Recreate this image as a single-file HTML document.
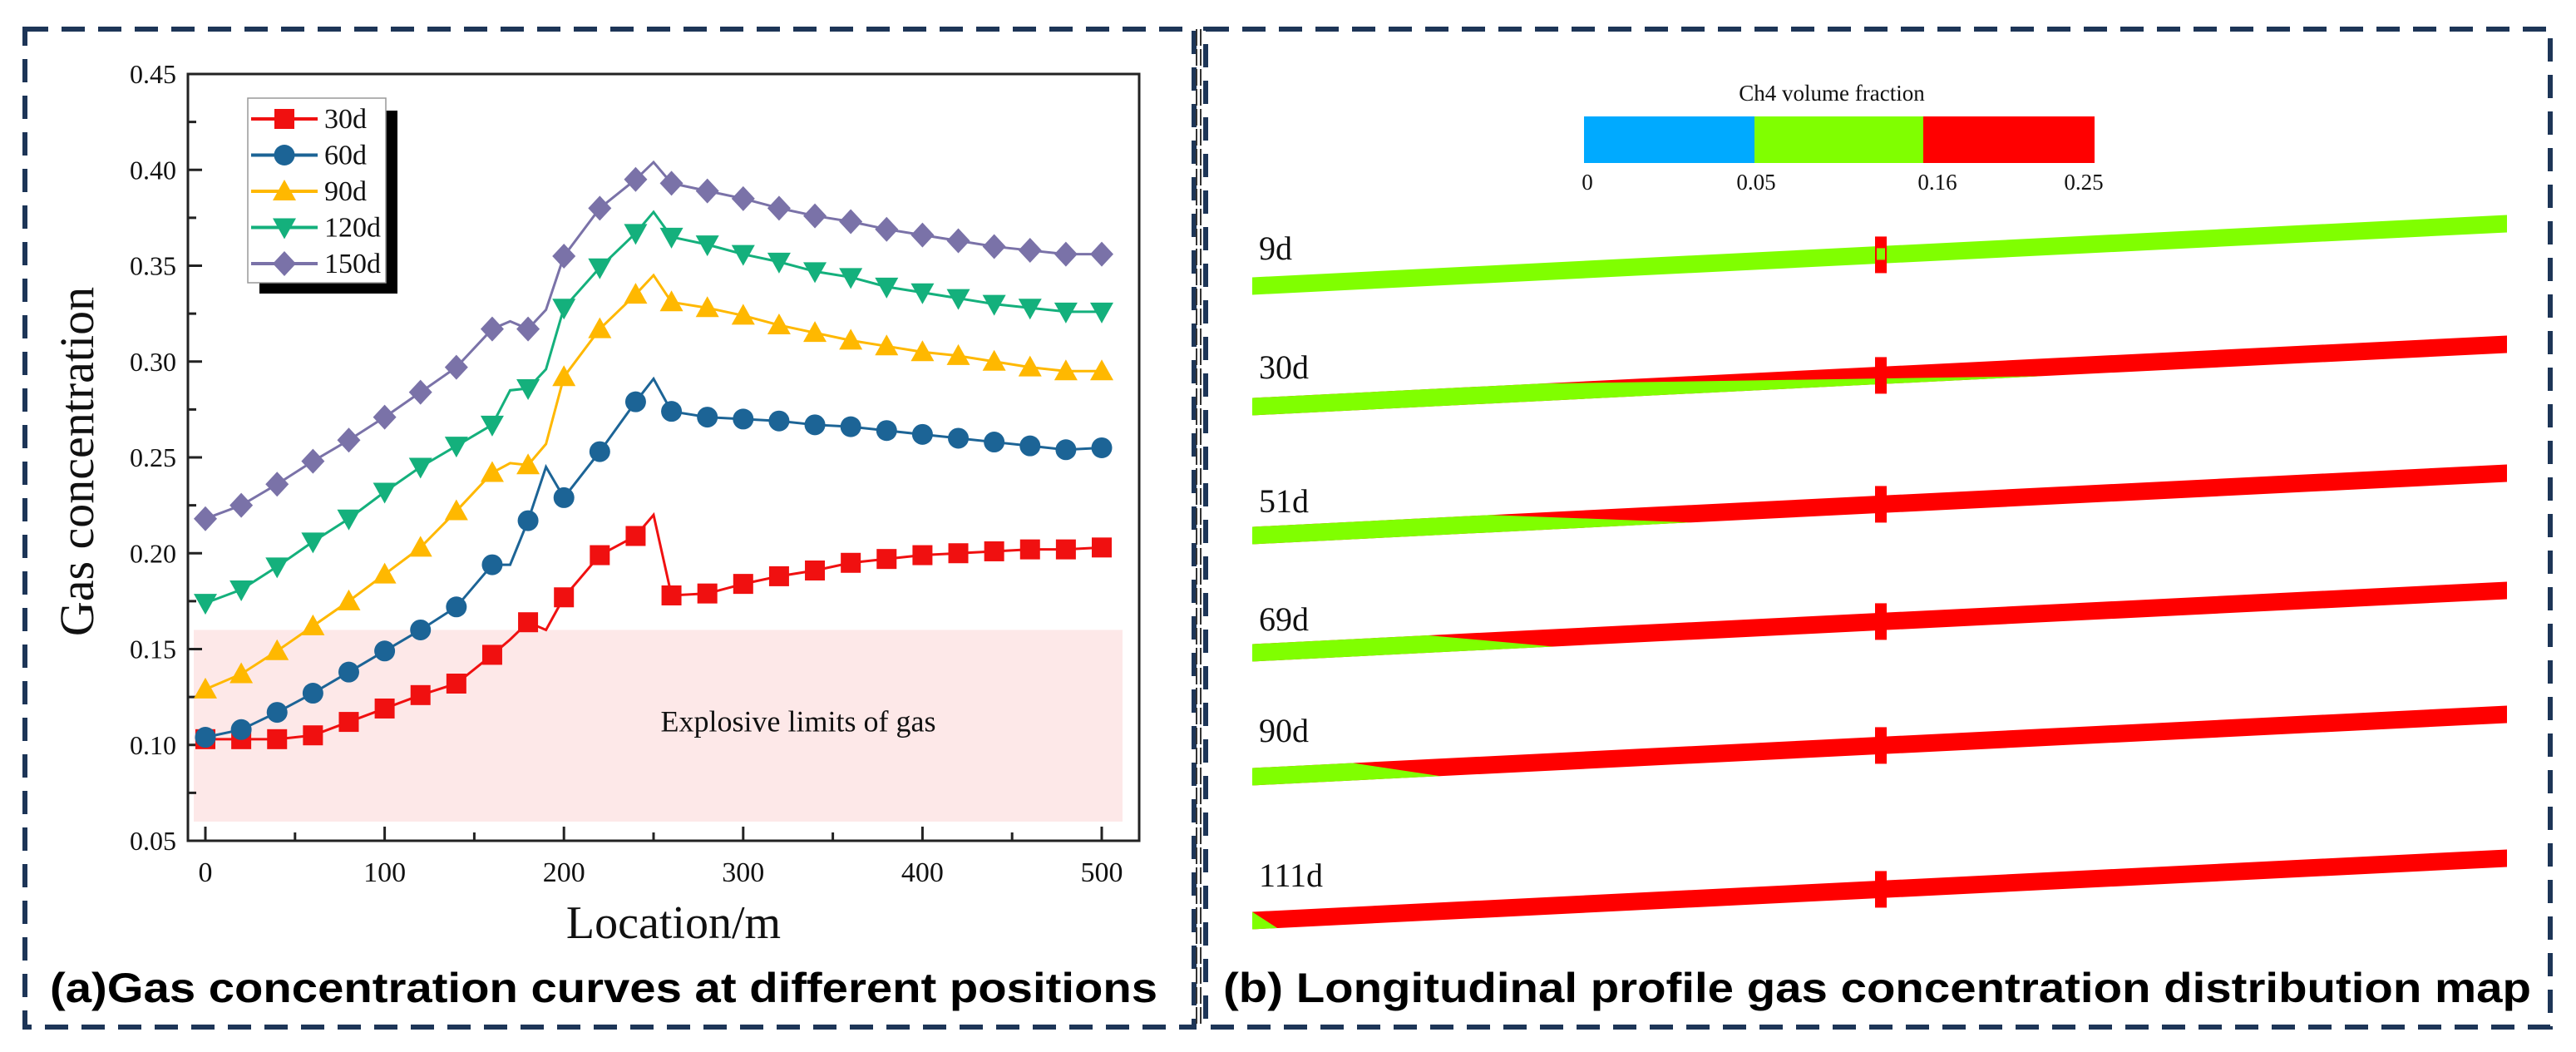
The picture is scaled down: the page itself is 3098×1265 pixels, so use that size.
<!DOCTYPE html>
<html><head><meta charset="utf-8"><style>
html,body{margin:0;padding:0;background:#fff}
svg{display:block}
</style></head><body>
<svg id="fig" width="3098" height="1265" viewBox="0 0 3098 1265" xmlns="http://www.w3.org/2000/svg">
<g fill="none">
<rect x="30" y="35" width="1406" height="1200" stroke="#1d3557" stroke-width="6" stroke-dasharray="28,16"/>
<line x1="1439" y1="35" x2="1439" y2="1235" stroke="#333" stroke-width="2" stroke-dasharray="20,4"/>
<line x1="1444" y1="35" x2="1444" y2="1235" stroke="#333" stroke-width="2" stroke-dasharray="20,4"/>
<rect x="1450" y="35" width="1617" height="1200" stroke="#1d3557" stroke-width="6" stroke-dasharray="28,16"/>
</g>
<g id="chartA"></g>
<g id="panelB"></g>
<text x="60" y="1205" font-family="Liberation Sans, sans-serif" font-weight="bold" font-size="50" textLength="1332" lengthAdjust="spacingAndGlyphs" fill="#000">(a)Gas concentration curves at different positions</text>
<text x="1471" y="1205" font-family="Liberation Sans, sans-serif" font-weight="bold" font-size="50" textLength="1573" lengthAdjust="spacingAndGlyphs" fill="#000">(b) Longitudinal profile gas concentration distribution map</text>
</svg>
<script>
const lineX=[0,20,40,60,80,100,120,140,160,170,180,190,200,220,240,250,260,280,300,320,340,360,380,400,420,440,460,480,500];
const s30=[0.103,0.103,0.103,0.105,0.112,0.119,0.126,0.132,0.147,0.155,0.164,0.160,0.177,0.199,0.209,0.220,0.178,0.179,0.184,0.188,0.191,0.195,0.197,0.199,0.200,0.201,0.202,0.202,0.203];
const s60=[0.104,0.108,0.117,0.127,0.138,0.149,0.160,0.172,0.194,0.194,0.217,0.245,0.229,0.253,0.279,0.291,0.274,0.271,0.270,0.269,0.267,0.266,0.264,0.262,0.260,0.258,0.256,0.254,0.255];
const s90=[0.129,0.137,0.149,0.162,0.175,0.189,0.203,0.222,0.242,0.247,0.246,0.257,0.292,0.317,0.335,0.345,0.331,0.328,0.324,0.319,0.315,0.311,0.308,0.305,0.303,0.300,0.297,0.295,0.295];
const s120=[0.174,0.181,0.193,0.206,0.218,0.232,0.245,0.256,0.267,0.285,0.286,0.296,0.328,0.349,0.367,0.378,0.365,0.361,0.356,0.352,0.347,0.344,0.339,0.336,0.333,0.330,0.328,0.326,0.326];
const s150=[0.218,0.225,0.236,0.248,0.259,0.271,0.284,0.297,0.317,0.321,0.317,0.327,0.355,0.380,0.395,0.404,0.393,0.389,0.385,0.380,0.376,0.373,0.369,0.366,0.363,0.360,0.358,0.356,0.356];
const seriesNames=["30d","60d","90d","120d","150d"];
const yTicks=[0.05,0.10,0.15,0.20,0.25,0.30,0.35,0.40,0.45];
const xTicks=[0,100,200,300,400,500];
const bandRange=[0.06,0.16];

const NS="http://www.w3.org/2000/svg";
function mk(tag,attrs,parent){const e=document.createElementNS(NS,tag);for(const k in attrs)e.setAttribute(k,attrs[k]);parent.appendChild(e);return e;}
const X0=226,X1=1370,Y0=89,Y1=1011;
const xs=v=>247+v*(1325-247)/500;
const ys=v=>Y0+(0.45-v)/0.4*(Y1-Y0);
const A=document.getElementById('chartA');
let band=mk('rect',{x:233,y:ys(bandRange[1]),width:1350-233,height:ys(bandRange[0])-ys(bandRange[1]),fill:'#fde8e8'},A);


let bt=mk('text',{x:960,y:ys(0.107),'font-family':'Liberation Serif, serif','font-size':36,'text-anchor':'middle',fill:'#111'},A);
bt.textContent='Explosive limits of gas';


let fr=mk('rect',{x:X0,y:Y0,width:X1-X0,height:Y1-Y0,fill:'none',stroke:'#222','stroke-width':3},A);


yTicks.forEach((t,i)=>{
  mk('line',{x1:X0,x2:X0+17,y1:ys(t),y2:ys(t),stroke:'#222','stroke-width':3},A);
  if(i<yTicks.length-1){mk('line',{x1:X0,x2:X0+10,y1:ys(t+0.025),y2:ys(t+0.025),stroke:'#222','stroke-width':3},A);}
  let tx=mk('text',{x:X0-14,y:ys(t)+11,'font-family':'Liberation Serif, serif','font-size':32,'text-anchor':'end',fill:'#111'},A);
  tx.textContent=t.toFixed(2);
  
  
});
xTicks.forEach((t,i)=>{
  mk('line',{x1:xs(t),x2:xs(t),y1:Y1,y2:Y1-17,stroke:'#222','stroke-width':3},A);
  if(i<xTicks.length-1)mk('line',{x1:xs(t+50),x2:xs(t+50),y1:Y1,y2:Y1-10,stroke:'#222','stroke-width':3},A);
  let tx=mk('text',{x:xs(t),y:1060,'font-family':'Liberation Serif, serif','font-size':34,'text-anchor':'middle',fill:'#111'},A);
  tx.textContent=String(t);
  
  
});
let yt=mk('text',{x:0,y:0,transform:'translate(112,555) rotate(-90)','font-family':'Liberation Serif, serif','font-size':58,'text-anchor':'middle',fill:'#111'},A);
yt.textContent='Gas concentration';


let xt=mk('text',{x:810,y:1128,'font-family':'Liberation Serif, serif','font-size':56,'text-anchor':'middle',fill:'#111'},A);
xt.textContent='Location/m';



const colors=['#f01010','#1c6496','#ffb800','#14b07c','#7a72a8'];
const shapes=['square','circle','up','down','diamond'];
const data=[s30,s60,s90,s120,s150];
function marker(shape,cx,cy,col,p){
  let e;
  if(shape==='square')e=mk('rect',{x:cx-12,y:cy-12,width:24,height:24,fill:col},p);
  else if(shape==='circle')e=mk('circle',{cx:cx,cy:cy,r:12.5,fill:col},p);
  else if(shape==='up')e=mk('polygon',{points:`${cx},${cy-14} ${cx+14},${cy+11} ${cx-14},${cy+11}`,fill:col},p);
  else if(shape==='down')e=mk('polygon',{points:`${cx-14},${cy-11} ${cx+14},${cy-11} ${cx},${cy+14}`,fill:col},p);
  else e=mk('polygon',{points:`${cx},${cy-15} ${cx+14},${cy} ${cx},${cy+15} ${cx-14},${cy}`,fill:col},p);
  return e;
}
data.forEach((s,si)=>{
  const g=mk('g',{},A);
  
  
  const pl=mk('polyline',{points:lineX.map((x,i)=>xs(x)+','+ys(s[i])).join(' '),fill:'none',stroke:colors[si],'stroke-width':3},g);
  
  
  lineX.forEach((x,i)=>{ if(x%20===0){
    const m=marker(shapes[si],xs(x),ys(s[i]),colors[si],g);
    
    
  }});
});
const L=mk('g',{},A);


mk('rect',{x:312,y:133,width:166,height:220,fill:'#000'},L);
mk('rect',{x:298,y:118,width:166,height:222,fill:'#fff',stroke:'#999','stroke-width':1.5},L);
seriesNames.forEach((n,i)=>{
  const cy=143+i*43.5;
  const le=mk('g',{},L);
  
  
  mk('line',{x1:302,x2:382,y1:cy,y2:cy,stroke:colors[i],'stroke-width':4},le);
  marker(shapes[i],342,cy,colors[i],le);
  const t=mk('text',{x:390,y:cy+11,'font-family':'Liberation Serif, serif','font-size':34,fill:'#111'},le);
  t.textContent=n;
});

const B=document.getElementById('panelB');
const cbStops=[0,0.05,0.16,0.25];
const cbColors=['#00aaff','#80ff00','#ff0000'];
const cbX=v=>{const px=[1905,2110,2313,2519];for(let i=0;i<3;i++){if(v<=cbStops[i+1])return px[i]+(v-cbStops[i])/(cbStops[i+1]-cbStops[i])*(px[i+1]-px[i]);}return 2519;};
const cb=mk('g',{},B);


for(let i=0;i<3;i++)mk('rect',{x:cbX(cbStops[i]),y:140,width:cbX(cbStops[i+1])-cbX(cbStops[i]),height:56,fill:cbColors[i]},cb);
const cbt=mk('text',{x:2203,y:121,'font-family':'Liberation Serif, serif','font-size':27,'text-anchor':'middle',fill:'#111'},cb);
cbt.textContent='Ch4 volume fraction';
const cbLabelX=[1909,2112,2330,2506];
cbStops.forEach((v,i)=>{
  const t=mk('text',{x:cbLabelX[i],y:228,'font-family':'Liberation Serif, serif','font-size':27,'text-anchor':'middle',fill:'#111'},cb);
  t.textContent=String(v);
  
  
});
const pipeDays=["9d","30d","51d","69d","90d","111d"];
const pipeLeftY=[344,489,644,785,934,1107];
const greenTop=[1.0,0.23,0.19,0.14,0.08,0.0];
const greenBot=[1.0,0.63,0.35,0.24,0.15,0.02];
const labelY=[312,455,616,758,892,1066];
const xl=1506,xr=3015,rise=75,th=21,crossX=2262;
pipeDays.forEach((d,i)=>{
  const g=mk('g',{},B);
  
  
  const yl=pipeLeftY[i], yr=yl-rise;
  const yAt=x=>yl+(x-xl)/(xr-xl)*(yr-yl);
  const base=greenTop[i]>=1?'#80ff00':'#ff0000';
  mk('polygon',{points:`${xl},${yl-th/2} ${xr},${yr-th/2} ${xr},${yr+th/2} ${xl},${yl+th/2}`,fill:base},g);
  if(greenTop[i]<1){
    const xt=xl+greenTop[i]*(xr-xl), xb=xl+greenBot[i]*(xr-xl);
    mk('polygon',{points:`${xl},${yl-th/2} ${xt},${yAt(xt)-th/2} ${xb},${yAt(xb)+th/2} ${xl},${yl+th/2}`,fill:'#80ff00'},g);
  }
  const yc=yAt(crossX);
  mk('rect',{x:crossX-7,y:yc-22,width:14,height:44,fill:'#ff0000'},g);
  if(i===0)mk('rect',{x:crossX-5,y:yc-8,width:10,height:14,fill:'#80ff00'},g);
  const t=mk('text',{x:1514,y:labelY[i],'font-family':'Liberation Serif, serif','font-size':40,fill:'#111'},g);
  t.textContent=d;
});
</script>
</body></html>
